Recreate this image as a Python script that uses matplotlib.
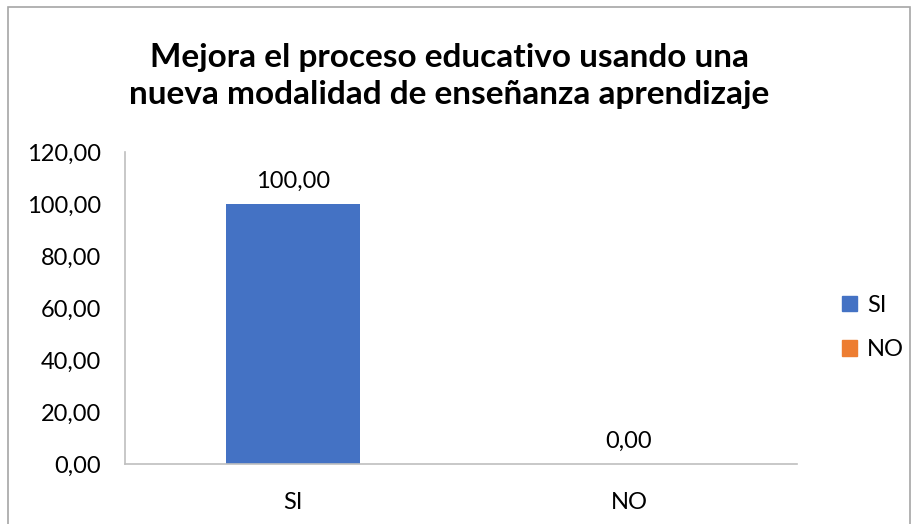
import numpy as np
import matplotlib.pyplot as plt
from matplotlib.patches import Rectangle, Patch

# data
categories = ['SI', 'NO']
values = [100.0, 0.0]
colors = ['#4472C4', '#ED7D31']
title = 'Mejora el proceso educativo usando una\nnueva modalidad de enseñanza aprendizaje'

plt.rcParams['font.family'] = ['Lato', 'DejaVu Sans']

fig = plt.figure(figsize=(9.12, 5.24), dpi=100)
ax = fig.add_axes([0.137, 0.1145, 0.737, 0.5955])

x = np.arange(len(categories))
bars = ax.bar(x, values, width=0.4, color=colors)

ax.set_xlim(-0.5, 1.5)
ax.set_ylim(0, 120)
ax.set_yticks(np.arange(0, 121, 20))
ax.yaxis.set_major_formatter(plt.FuncFormatter(lambda v, p: ('%.2f' % v).replace('.', ',')))
ax.set_xticks(x)
ax.set_xticklabels(categories)
ax.tick_params(axis='both', length=0, labelsize=17, colors='#000000')
ax.tick_params(axis='x', pad=20)
ax.tick_params(axis='y', pad=17)

for s in ['top', 'right']:
    ax.spines[s].set_visible(False)
for s in ['left', 'bottom']:
    ax.spines[s].set_color('#BFBFBF')
    ax.spines[s].set_linewidth(1.2)

# data labels
for xi, v in zip(x, values):
    ax.annotate(('%.2f' % v).replace('.', ','), (xi, v), textcoords='offset points',
                xytext=(0, 9), ha='center', va='bottom', fontsize=17)

fig.text(0.493, 0.855, title, ha='center', va='center', fontsize=24,
         fontweight='bold', linespacing=1.3)

handles = [Patch(color=c, label=l) for c, l in zip(colors, categories)]
fig.legend(handles=handles, loc='center left', bbox_to_anchor=(0.9, 0.375),
           frameon=False, fontsize=17, handlelength=0.65, handleheight=0.65,
           handletextpad=0.4, labelspacing=1.0)

# chart border
fig.patches.append(Rectangle((8 / 912, -0.1), 902 / 912, 1.1 - 7 / 524, transform=fig.transFigure,
                             fill=False, edgecolor='#A6A6A6', linewidth=1.2))

plt.savefig('out.png', dpi=100)
